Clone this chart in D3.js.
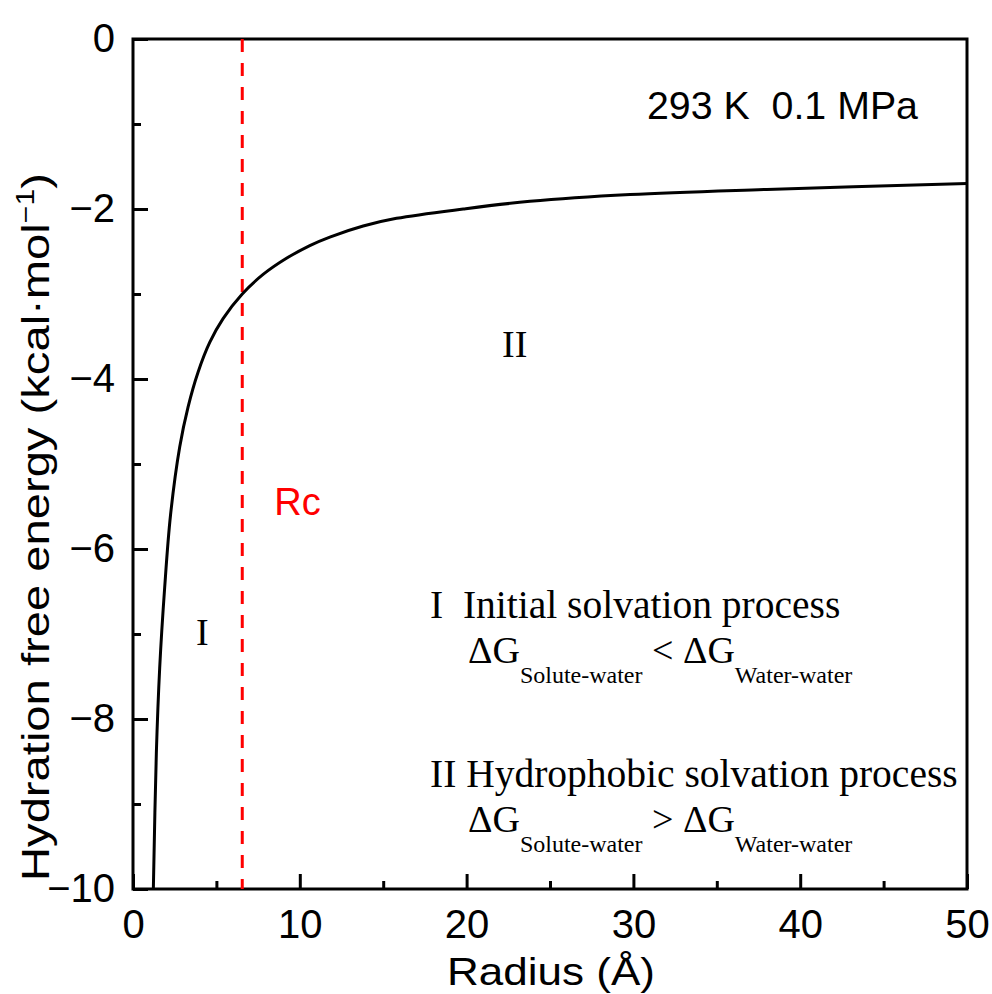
<!DOCTYPE html>
<html>

<head>
	<meta charset="utf-8">
	<style type="text/css">
		body {
			margin: 0;
			background: white;
		}

		.sans {
			font-family: 'Liberation Sans', Arial, sans-serif;
		}

		.serif {
			font-family: 'Liberation Serif', 'Times New Roman', serif;
		}
	</style>
	<title>Hydration free energy vs radius</title>
</head>

<body>
	<script src="https://cdn.jsdelivr.net/npm/d3@7"></script>

	<script>

		// curve: radius (Å) and hydration free energy (kcal/mol)
		var radius = [1.22, 1.4, 1.6, 1.9, 2.25, 2.8, 3.3, 3.9, 4.6, 5.4, 6.55, 7.8, 9.2, 10.6, 11.8, 13.8, 15.8, 19.8, 23.8, 29.8, 38, 50];
		var energy = [-10, -8.4, -7.4, -6.45, -5.6, -4.8, -4.33, -3.92, -3.57, -3.29, -3.0, -2.77, -2.58, -2.43, -2.33, -2.2, -2.11, -2.0, -1.91, -1.83, -1.77, -1.70];

		var x_ticks = [0, 10, 20, 30, 40, 50];
		var x_minor = [5, 15, 25, 35, 45];
		var y_ticks = [0, -2, -4, -6, -8, -10];
		var y_minor = [-1, -3, -5, -7, -9];

		var rc = 6.55;

		// set the dimensions and margins of the graph
		var margin = { top: 39, right: 25, bottom: 105, left: 133 },
			width = 967 - margin.left,
			height = 889 - margin.top;

		var x = d3.scaleLinear()
			.domain([0, 50])
			.range([0, width]);

		var y = d3.scaleLinear()
			.domain([-10, 0])
			.range([height, 0]);

		var svg = d3.select("body").append("svg")
			.attr("width", 992)
			.attr("height", 994)
			.append("g")
			.attr("transform", "translate(" + margin.left + "," + margin.top + ")");

		// x axis (ticks pointing inward)
		svg.append("g")
			.attr("class", "sans")
			.attr("transform", "translate(0," + height + ")")
			.call(d3.axisBottom(x).tickValues(x_ticks).tickSizeInner(-15).tickSizeOuter(0).tickPadding(21));

		svg.append("g")
			.attr("transform", "translate(0," + height + ")")
			.call(d3.axisBottom(x).tickValues(x_minor).tickSizeInner(-8).tickSizeOuter(0).tickFormat(""));

		svg.append("g")
			.attr("class", "sans")
			.call(d3.axisLeft(y).tickValues(y_ticks).tickSizeInner(-15).tickSizeOuter(0).tickPadding(18));

		svg.append("g")
			.call(d3.axisLeft(y).tickValues(y_minor).tickSizeInner(-8).tickSizeOuter(0).tickFormat(""));

		svg.selectAll(".domain").remove();
		svg.selectAll(".tick line").attr("stroke", "black").attr("stroke-width", 3);
		svg.selectAll(".tick text")
			.attr("fill", "black")
			.style("font-size", "40px");

		// frame
		svg.append("rect")
			.attr("width", width)
			.attr("height", height)
			.attr("fill", "none")
			.attr("stroke", "black")
			.attr("stroke-width", 3);

		// Rc dashed line
		svg.append("line")
			.attr("x1", x(rc))
			.attr("x2", x(rc))
			.attr("y1", 0)
			.attr("y2", height)
			.attr("stroke", "red")
			.attr("stroke-width", 3)
			.attr("stroke-dasharray", "13,11");

		// the curve
		var points = radius.map(function (r, i) { return [r, energy[i]]; });

		svg.append("path")
			.datum(points)
			.attr("fill", "none")
			.attr("stroke", "black")
			.attr("stroke-width", 3)
			.attr("d", d3.line()
				.curve(d3.curveCatmullRom.alpha(0.5))
				.x(function (d) { return x(d[0]); })
				.y(function (d) { return y(d[1]); }));

		// axis labels
		svg.append("text")
			.attr("class", "sans")
			.attr("x", width / 2 + 1)
			.attr("y", height + 96)
			.attr("text-anchor", "middle")
			.attr("textLength", 208)
			.attr("lengthAdjust", "spacingAndGlyphs")
			.style("font-size", "39px")
			.text("Radius (Å)");

		var y_label = svg.append("text")
			.attr("class", "sans")
			.attr("transform", "rotate(-90)")
			.attr("x", -488)
			.attr("y", -84)
			.attr("text-anchor", "middle")
			.attr("textLength", 708)
			.attr("lengthAdjust", "spacingAndGlyphs")
			.style("font-size", "39px");
		y_label.append("tspan").text("Hydration free energy (kcal·mol");
		y_label.append("tspan").attr("dy", -15).style("font-size", "25px").text("−1");
		y_label.append("tspan").attr("dy", 15).text(")");

		// annotations
		svg.append("text")
			.attr("class", "sans")
			.attr("x", 514)
			.attr("y", 80)
			.style("font-size", "39px")
			.attr("textLength", 271)
			.attr("lengthAdjust", "spacingAndGlyphs")
			.attr("xml:space", "preserve")
			.text("293 K  0.1 MPa");

		svg.append("text")
			.attr("class", "sans")
			.attr("x", x(rc) + 32)
			.attr("y", 476)
			.attr("fill", "red")
			.style("font-size", "38px")
			.text("Rc");

		svg.append("text")
			.attr("class", "serif")
			.attr("x", 63)
			.attr("y", 606)
			.style("font-size", "38px")
			.text("I");

		svg.append("text")
			.attr("class", "serif")
			.attr("x", 369)
			.attr("y", 318)
			.style("font-size", "38px")
			.text("II");

		// process legend
		function legend_block(title, sign, ty) {
			svg.append("text")
				.attr("class", "serif")
				.attr("x", 297)
				.attr("y", ty)
				.attr("xml:space", "preserve")
				.style("font-size", "39.5px")
				.text(title);

			var t = svg.append("text")
				.attr("class", "serif")
				.attr("y", ty + 45)
				.style("font-size", "38px");
			t.append("tspan").attr("x", 335).text("ΔG");
			t.append("tspan").attr("dy", 20).style("font-size", "24px").text("Solute-water");
			t.append("tspan").attr("dy", -20).text(" " + sign + " ΔG");
			t.append("tspan").attr("dy", 20).style("font-size", "24px").text("Water-water");
		}

		legend_block("I  Initial solvation process", "<", 579);
		legend_block("II Hydrophobic solvation process", ">", 748);

	</script>
</body>

</html>
